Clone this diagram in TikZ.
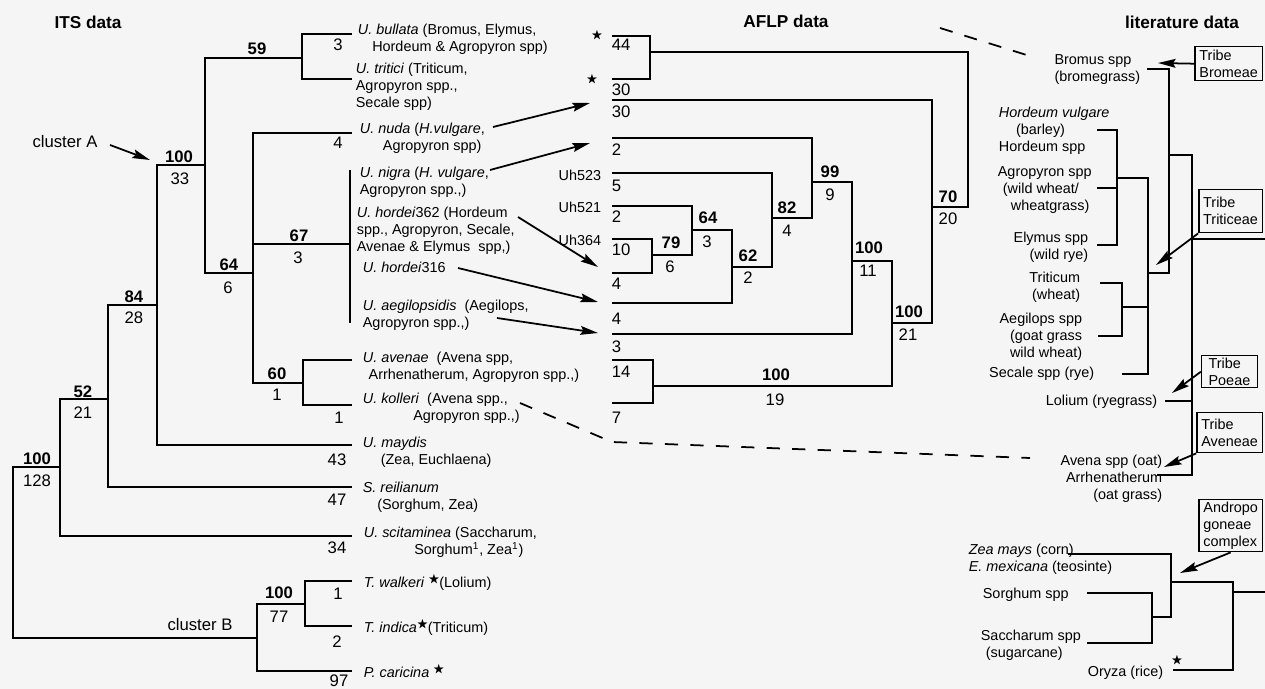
\documentclass[tikz,border=0pt]{standalone}
\usepackage{amssymb}
\usepackage{fontspec}
\setmainfont{Liberation Sans}
\usetikzlibrary{arrows.meta}
\newcommand{\sstar}{\raisebox{0.55ex}{\scalebox{0.8}{$\bigstar$}}}

\begin{document}
\begin{tikzpicture}[x=0.02cm, y=-0.02cm, line width=1pt,
    every node/.style={font=\fontsize{8.2}{9.7}\selectfont, inner sep=0pt},
    leaf/.style={anchor=north west, align=left},
    lit/.style={anchor=north east, align=right},
    boot/.style={font=\fontsize{9.5}{11}\selectfont\bfseries},
    blen/.style={font=\fontsize{9.5}{11}\selectfont},
    title/.style={font=\fontsize{9.8}{12}\selectfont\bfseries},
    tribe/.style={draw, line width=0.8pt, align=left, anchor=north east, inner xsep=2.5pt},
    pointer/.style={-{Stealth[length=10pt, width=5pt, inset=1.5pt]}},
    link/.style={dash pattern=on 7.5pt off 7pt}]
\useasboundingbox (0,0) rectangle (1265,689);
\fill[black!4] (0,0) rectangle (1265,689);

% titles
\node[title] at (88,22) {ITS data};
\node[title] at (786,21) {AFLP data};
\node[title] at (1182,22) {literature data};

% ITS tree
\draw (60,467) -| (13,638) -- (257,638);
\draw (108,399) -| (60,536) -- (352,536);
\draw (157,305) -| (108,487) -- (352,487);
\draw (205,165) -| (157,445) -- (352,445);
\draw (302,58) -| (205,273) -- (253,273);
\draw (352,34) -| (302,79) -- (352,79);
\draw (352,133) -| (253,383) -- (303,383);
\draw (253,244) -- (350,244);
\draw (350,170) -- (350,323);
\draw (352,360) -| (303,405) -- (352,405);
\draw (305,604) -| (257,671) -- (352,671);
\draw (352,581) -| (305,626) -- (352,626);

\node[boot] at (257,49) {59};
\node[blen] at (338,45) {3};
\node[boot] at (179,157) {100};
\node[blen] at (180,179) {33};
\node[blen] at (338,143) {4};
\node[boot] at (299,236) {67};
\node[blen] at (298,258) {3};
\node[boot] at (229,265) {64};
\node[blen] at (228,288) {6};
\node[boot] at (134,297) {84};
\node[blen] at (134,318) {28};
\node[boot] at (277,374) {60};
\node[blen] at (277,395) {1};
\node[boot] at (83,392) {52};
\node[blen] at (83,413) {21};
\node[boot] at (37,459) {100};
\node[blen] at (37,481) {128};
\node[blen] at (339,418) {1};
\node[blen] at (337,460) {43};
\node[blen] at (337,500) {47};
\node[blen] at (337,548) {34};
\node[boot] at (279,593) {100};
\node[blen] at (279,617) {77};
\node[blen] at (338,594) {1};
\node[blen] at (337,642) {2};
\node[blen] at (339,681) {97};

\node[blen] (clA) at (65,142) {cluster A};
\node[blen] (clB) at (200,625) {cluster B};
\coordinate (clA-out) at (110,145);
\coordinate (clA-tip) at (150,160);
\draw[pointer] (clA-out) -- (clA-tip);

% ITS leaves
\node[leaf] (bullata) at (357,23) {\textit{U. bullata} (Bromus, Elymus,\\\hspace*{1em}Hordeum \& Agropyron spp)};
\node[leaf] (tritici) at (355,62) {\textit{U. tritici} (Triticum,\\Agropyron spp.,\\Secale spp)};
\node[leaf] (nuda) at (359,122) {\textit{U. nuda} (\textit{H.vulgare},\\\hspace*{1.6em}Agropyron spp)};
\node[leaf] (nigra) at (359,166) {\textit{U. nigra} (\textit{H. vulgare},\\Agropyron spp.,)};
\node[leaf] (hordeiA) at (356,206) {\textit{U. hordei}362 (Hordeum\\spp., Agropyron, Secale,\\Avenae \& Elymus\ \ spp,)};
\node[leaf] (hordeiB) at (362,261) {\textit{U. hordei}316};
\node[leaf] (aegil) at (362,299) {\textit{U. aegilopsidis}\ \ (Aegilops,\\Agropyron spp.,)};
\node[leaf] (avenae) at (362,351) {\textit{U. avenae}\ \ (Avena spp,\\\hspace*{0.4em}Arrhenatherum, Agropyron spp.,)};
\node[leaf] (kolleri) at (362,392) {\textit{U. kolleri}\ \ (Avena spp.,\\\hspace*{3.5em}Agropyron spp.,)};
\node[leaf] (maydis) at (362,436) {\textit{U. maydis}\\\hspace*{1.25em}(Zea, Euchlaena)};
\node[leaf] (reil) at (362,481) {\textit{S. reilianum}\\\hspace*{1em}(Sorghum, Zea)};
\node[leaf] (scit) at (363,526) {\textit{U. scitaminea} (Saccharum,\\\hspace*{3.5em}Sorghum\textsuperscript{1}, Zea\textsuperscript{1})};
\node[leaf] (walkeri) at (363,574) {\textit{T. walkeri} \sstar(Lolium)};
\node[leaf] (indica) at (363,619) {\textit{T. indica}\sstar(Triticum)};
\node[leaf] (caricina) at (363,664) {\textit{P. caricina} \sstar};

% AFLP tree
\draw (612,36) -| (650,79) -- (612,79);
\draw (650,52) -- (968,52) -- (968,207) -- (932,207);
\draw (612,100) -| (932,323) -- (892,323);
\draw (852,261) -| (892,386) -- (653,386);
\draw (612,360) -| (653,403) -- (612,403);
\draw (812,182) -| (852,334) -- (612,334);
\draw (612,138) -| (812,218) -- (772,218);
\draw (612,173) -| (772,267) -- (732,267);
\draw (692,230) -| (732,303) -- (612,303);
\draw (612,206) -| (692,255) -- (652,255);
\draw (612,239) -| (652,273) -- (612,273);

\foreach \val/\yy in {44/45, 30/90, 30/112, 2/150, 5/186, 2/217, 10/250, 4/284, 4/319, 3/347, 14/372, 7/418}
  \node[blen, anchor=west] at (611,\yy) {\val};
\node at (597,37) {\sstar};
\node at (592,81) {\sstar};
\node[anchor=east] (uh523) at (602,175) {Uh523};
\node[anchor=east] (uh521) at (602,207) {Uh521};
\node[anchor=east] (uh364) at (602,240) {Uh364};

\node[boot] at (830,172) {99};
\node[blen] at (830,195) {9};
\node[boot] at (787,208) {82};
\node[blen] at (787,231) {4};
\node[boot] at (708,218) {64};
\node[blen] at (707,242) {3};
\node[boot] at (671,243) {79};
\node[blen] at (670,267) {6};
\node[boot] at (748,256) {62};
\node[blen] at (748,278) {2};
\node[boot] at (869,248) {100};
\node[blen] at (868,271) {11};
\node[boot] at (909,312) {100};
\node[blen] at (908,335) {21};
\node[boot] at (776,375) {100};
\node[blen] at (775,400) {19};
\node[boot] at (948,197) {70};
\node[blen] at (948,219) {20};

% ITS -> AFLP
\coordinate (nuda-out) at (493,127);   \coordinate (nuda-in) at (590,103);
\coordinate (nigra-out) at (490,170);  \coordinate (nigra-in) at (590,143);
\coordinate (hA-out) at (518,217);     \coordinate (hA-in) at (598,267);
\coordinate (hB-out) at (458,268);     \coordinate (hB-in) at (598,302);
\coordinate (aeg-out) at (497,318);    \coordinate (aeg-in) at (598,333);
\draw[pointer] (nuda-out) -- (nuda-in);
\draw[pointer] (nigra-out) -- (nigra-in);
\draw[pointer] (hA-out) -- (hA-in);
\draw[pointer] (hB-out) -- (hB-in);
\draw[pointer] (aeg-out) -- (aeg-in);

\coordinate (kol-out) at (520,403);
\coordinate (kol-bend) at (612,442);
\coordinate (avena-in) at (1030,458);
\draw[link] (kol-out) -- (kol-bend) -- (avena-in);
\coordinate (bull-link) at (940,28);
\coordinate (bromus-in) at (1033,57);
\draw[link] (bull-link) -- (bromus-in);

% literature tree
\draw (1147,69) -| (1169,273) -- (1148,273);
\draw (1169,155) -| (1192,475) -- (1157,475);
\draw (1165,401) -- (1192,401);
\draw (1192,239) -- (1265,239);
\draw (1117,178) -| (1148,374) -- (1122,374);
\draw (1122,307) -- (1148,307);
\draw (1097,130) -| (1117,245) -- (1097,245);
\draw (1097,188) -- (1117,188);
\draw (1100,283) -| (1122,336) -- (1098,336);
\draw (1068,554) -| (1171,617) -- (1152,617);
\draw (1087,593) -| (1152,643) -- (1087,643);
\draw (1171,582) -| (1233,670) -- (1173,670);
\draw (1233,592) -- (1265,592);

\node[align=center] (bromus) at (1093,70) {Bromus spp\\\hspace*{0.6em}(bromegrass)};
\node[leaf] (hordeum) at (998,106) {\textit{Hordeum vulgare}\\\hspace*{1.2em}(barley)\\Hordeum spp};
\node[leaf] (agropyron) at (997,166) {Agropyron spp\\\hspace*{0.35em}(wild wheat/\\\hspace*{0.9em}wheatgrass)};
\node[lit] (elymus) at (1089,231) {Elymus spp\\(wild rye)};
\node[lit] (triticum) at (1081,271) {Triticum\\(wheat)};
\node[lit] (aegilops) at (1083,312) {Aegilops spp\\(goat grass\\wild wheat)};
\node[anchor=east] (secale) at (1095,374) {Secale spp (rye)};
\node[anchor=east] (lolium) at (1158,402) {Lolium (ryegrass)};
\node[lit] (avena) at (1163,454) {Avena spp (oat)\\Arrhenatherum\hspace*{0.4em}\\(oat grass)};
\node[leaf] (zea) at (968,543) {\textit{Zea mays} (corn)\\\textit{E. mexicana} (teosinte)};
\node[anchor=west] (sorghum) at (982,595) {Sorghum spp};
\node[leaf] (saccharum) at (980,629) {Saccharum spp\\\hspace*{0.35em}(sugarcane)};
\node[anchor=west] (oryza) at (1087,673) {Oryza (rice)};
\node (oryza-star) at (1177,662) {\sstar};

% tribes
\node[tribe, minimum height=0.68cm] (bromeae) at (1263,46) {Tribe\\Bromeae};
\node[tribe, minimum height=0.86cm] (triticeae) at (1263,189) {Tribe\\Triticeae};
\node[tribe, minimum height=0.64cm, inner xsep=4pt] (poeae) at (1258,355) {Tribe\\Poeae};
\node[tribe, minimum height=0.8cm] (aveneae) at (1263,412) {Tribe\\Aveneae};
\node[tribe, minimum height=1.04cm] (andropo) at (1263,499) {Andropo\\goneae\\complex};

\coordinate (bromeae-tip) at (1158,63);
\coordinate (triticeae-tip) at (1156,265);
\coordinate (poeae-tip) at (1172,393);
\coordinate (aveneae-tip) at (1164,467);
\coordinate (andropo-tip) at (1180,573);
\draw[pointer] (bromeae.west) -- (bromeae-tip);
\draw[pointer] (triticeae.south west) -- (triticeae-tip);
\draw[pointer] (poeae.west) -- (poeae-tip);
\draw[pointer] (aveneae.south west) -- (aveneae-tip);
\draw[pointer] (andropo.south) -- (andropo-tip);
\end{tikzpicture}
\end{document}
